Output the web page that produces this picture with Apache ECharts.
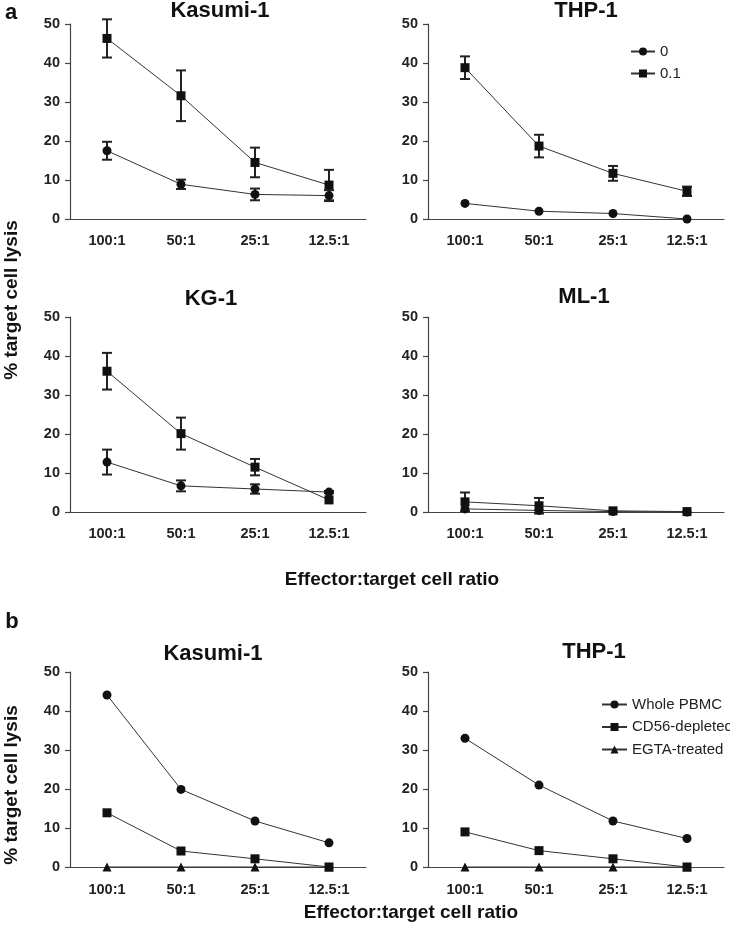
<!DOCTYPE html>
<html>
<head>
<meta charset="utf-8">
<script src="https://cdn.jsdelivr.net/npm/echarts@6/dist/echarts.min.js"></script>
<style>
html,body{margin:0;padding:0;background:#fff;}
#chart{width:730px;height:928px;}
</style>
</head>
<body>
<div id="chart"></div>
<script>
// ---- Data ----
const ratios = ['100:1', '50:1', '25:1', '12.5:1'];
const yTicks = [0, 10, 20, 30, 40, 50];

const panelTitles = ['Kasumi-1', 'THP-1', 'KG-1', 'ML-1', 'Kasumi-1', 'THP-1'];
const groupANames = ['0', '0.1'];
const groupBNames = ['Whole PBMC', 'CD56-depleted', 'EGTA-treated'];

// Panel a: mean and SD
const kasumiA0 = [17.5, 8.9, 6.3, 6.0];
const kasumiA0sd = [2.3, 1.2, 1.5, 1.4];
const kasumiA01 = [46.3, 31.6, 14.5, 8.7];
const kasumiA01sd = [4.9, 6.5, 3.8, 3.9];

const thpA0 = [4.0, 2.0, 1.4, 0.0];
const thpA0sd = [0, 0, 0, 0];
const thpA01 = [38.8, 18.7, 11.7, 7.1];
const thpA01sd = [2.9, 2.9, 1.9, 1.2];

const kgA0 = [12.8, 6.7, 5.9, 5.1];
const kgA0sd = [3.2, 1.4, 1.2, 0.3];
const kgA01 = [36.1, 20.1, 11.5, 3.1];
const kgA01sd = [4.7, 4.1, 2.1, 0];

const mlA0 = [0.8, 0.4, 0.1, 0.0];
const mlA0sd = [0, 0, 0, 0];
const mlA01 = [2.6, 1.6, 0.3, 0.1];
const mlA01sd = [2.4, 2.0, 0, 0];

// Panel b
const kasumiBWhole = [44.1, 19.9, 11.8, 6.2];
const kasumiBCD56 = [13.9, 4.1, 2.1, 0];
const kasumiBEGTA = [0, 0, 0, 0];

const thpBWhole = [33.0, 21.0, 11.8, 7.3];
const thpBCD56 = [9.0, 4.2, 2.1, 0];
const thpBEGTA = [0, 0, 0, 0];

// ---- Layout ----
const FONT = 'Liberation Sans, Arial, sans-serif';
const gridPos = [
  {left: 70, top: 24}, {left: 428, top: 24},
  {left: 70, top: 317}, {left: 428, top: 317},
  {left: 70, top: 672}, {left: 428, top: 672}
];
const titlePos = [[220, 11], [586, 11], [211, 299], [584, 297], [213, 654], [594, 652]];

const grids = gridPos.map(g => ({left: g.left, top: g.top, width: 296, height: 195}));
const xAxes = gridPos.map((g, i) => ({
  type: 'category', gridIndex: i, data: ratios, boundaryGap: true,
  axisLine: {lineStyle: {color: '#444', width: 1.2}},
  axisTick: {show: false},
  axisLabel: {color: '#222', fontWeight: 'bold', fontSize: 14.5, fontFamily: FONT, margin: i >= 4 ? 15 : 14}
}));
const yAxes = gridPos.map((g, i) => ({
  type: 'value', gridIndex: i, min: 0, max: 50, interval: 10,
  axisLine: {show: true, lineStyle: {color: '#444', width: 1.2}},
  axisTick: {show: true, length: 5, lineStyle: {color: '#444', width: 1.2}},
  splitLine: {show: false},
  axisLabel: {color: '#222', fontWeight: 'bold', fontSize: 14.5, fontFamily: FONT, margin: 10,
    formatter: v => yTicks.indexOf(v) >= 0 ? String(v) : ''}
}));

const series = [];
function lineSeries(name, data, gi, symbol, size) {
  series.push({
    name: name, type: 'line', xAxisIndex: gi, yAxisIndex: gi, data: data,
    symbol: symbol, symbolSize: size, showSymbol: true,
    lineStyle: {color: '#333', width: 1},
    itemStyle: {color: '#111'}, z: 3, clip: false
  });
}
function errSeries(mean, sd, gi) {
  const d = mean.map((m, i) => [i, m - sd[i], m + sd[i]]).filter(r => r[2] - r[1] > 0);
  series.push({
    type: 'custom', xAxisIndex: gi, yAxisIndex: gi, data: d, z: 2, clip: false,
    silent: true,
    renderItem: function (params, api) {
      const x = api.value(0);
      const lo = api.coord([x, api.value(1)]);
      const hi = api.coord([x, api.value(2)]);
      const w = 5;
      const st = {stroke: '#222', lineWidth: 2};
      return {type: 'group', children: [
        {type: 'line', shape: {x1: lo[0], y1: lo[1], x2: hi[0], y2: hi[1]}, style: st},
        {type: 'line', shape: {x1: hi[0] - w, y1: hi[1], x2: hi[0] + w, y2: hi[1]}, style: st},
        {type: 'line', shape: {x1: lo[0] - w, y1: lo[1], x2: lo[0] + w, y2: lo[1]}, style: st}
      ]};
    },
    encode: {x: 0, y: [1, 2]}
  });
}

const aSets = [
  [kasumiA0, kasumiA0sd, kasumiA01, kasumiA01sd],
  [thpA0, thpA0sd, thpA01, thpA01sd],
  [kgA0, kgA0sd, kgA01, kgA01sd],
  [mlA0, mlA0sd, mlA01, mlA01sd]
];
aSets.forEach((s, gi) => {
  errSeries(s[0], s[1], gi);
  errSeries(s[2], s[3], gi);
  lineSeries(groupANames[0], s[0], gi, 'circle', 9);
  lineSeries(groupANames[1], s[2], gi, 'rect', 9);
});
const bSets = [
  [kasumiBWhole, kasumiBCD56, kasumiBEGTA],
  [thpBWhole, thpBCD56, thpBEGTA]
];
bSets.forEach((s, k) => {
  const gi = 4 + k;
  lineSeries(groupBNames[0], s[0], gi, 'circle', 9);
  lineSeries(groupBNames[1], s[1], gi, 'rect', 9);
  lineSeries(groupBNames[2], s[2], gi, 'triangle', 9);
});

const graphics = [];
panelTitles.forEach((t, i) => {
  graphics.push({type: 'text', x: titlePos[i][0], y: titlePos[i][1],
    style: {text: t, font: 'bold 22px ' + FONT, fill: '#111', align: 'center', verticalAlign: 'middle'}});
});
graphics.push({type: 'text', x: 11, y: 13, style: {text: 'a', font: 'bold 22px ' + FONT, fill: '#111', align: 'center', verticalAlign: 'middle'}});
graphics.push({type: 'text', x: 12, y: 622, style: {text: 'b', font: 'bold 22px ' + FONT, fill: '#111', align: 'center', verticalAlign: 'middle'}});
graphics.push({type: 'text', x: 392, y: 580, style: {text: 'Effector:target cell ratio', font: 'bold 19px ' + FONT, fill: '#111', align: 'center', verticalAlign: 'middle'}});
graphics.push({type: 'text', x: 411, y: 913, style: {text: 'Effector:target cell ratio', font: 'bold 19px ' + FONT, fill: '#111', align: 'center', verticalAlign: 'middle'}});
graphics.push({type: 'text', x: 12, y: 300, rotation: Math.PI / 2, style: {text: '% target cell lysis', font: 'bold 19px ' + FONT, fill: '#111', align: 'center', verticalAlign: 'middle'}});
graphics.push({type: 'text', x: 12, y: 785, rotation: Math.PI / 2, style: {text: '% target cell lysis', font: 'bold 19px ' + FONT, fill: '#111', align: 'center', verticalAlign: 'middle'}});

const chart = echarts.init(document.getElementById('chart'), null, {renderer: 'canvas'});
chart.setOption({
  animation: false,
  backgroundColor: '#fff',
  grid: grids,
  xAxis: xAxes,
  yAxis: yAxes,
  legend: [
    {data: groupANames, orient: 'vertical', left: 625, top: 39, itemWidth: 24, itemHeight: 10, itemGap: 7,
      textStyle: {color: '#222', fontSize: 15, fontFamily: FONT}},
    {data: groupBNames, orient: 'vertical', left: 596, top: 692, itemWidth: 25, itemHeight: 10, itemGap: 7.5,
      textStyle: {color: '#222', fontSize: 15, fontFamily: FONT}}
  ],
  graphic: graphics,
  series: series
});
</script>
</body>
</html>
